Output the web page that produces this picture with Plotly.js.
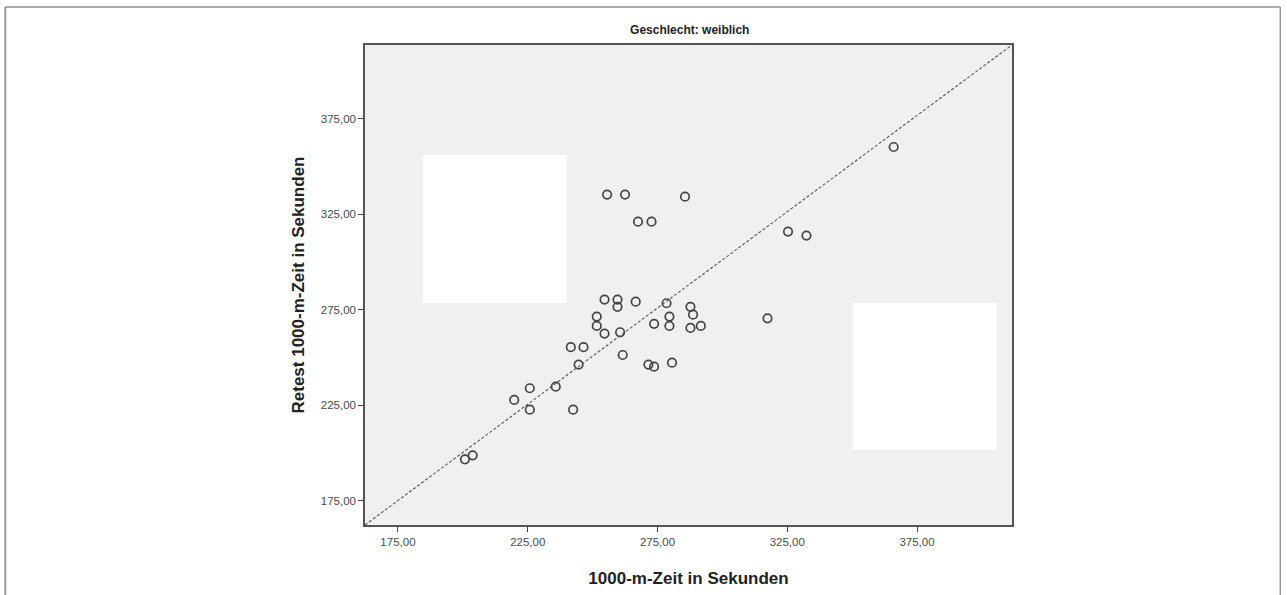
<!DOCTYPE html>
<html>
<head>
<meta charset="utf-8">
<script src="https://cdn.plot.ly/plotly-3.0.1.min.js"></script>
<style>
html,body{margin:0;padding:0;background:#fff;}
#chart{width:1287px;height:595px;}
</style>
</head>
<body>
<div id="chart"></div>
<script>
// 1000-m-Zeit (Test) in Sekunden
const testZeit = [255.6, 262.5, 285.6, 267.5, 272.7, 254.6, 259.6, 259.6, 266.6, 278.5,
                  251.6, 251.6, 254.6, 260.6, 273.7, 279.6, 279.6, 287.7, 288.7, 287.7,
                  291.7, 241.6, 246.5, 244.6, 261.6, 271.5, 273.7, 280.6, 225.8, 219.8,
                  235.8, 225.8, 242.5, 200.8, 203.8, 317.4, 325.3, 332.4, 366.0];
// Retest 1000-m-Zeit in Sekunden
const retestZeit = [335.3, 335.3, 334.2, 321.1, 321.1, 280.3, 280.3, 276.5, 279.2, 278.4,
                    271.4, 266.5, 262.5, 263.2, 267.6, 271.4, 266.5, 276.5, 272.4, 265.5,
                    266.5, 255.4, 255.4, 246.3, 251.3, 246.3, 245.2, 247.3, 233.9, 227.8,
                    234.7, 222.7, 222.7, 196.7, 198.8, 270.5, 315.9, 313.8, 360.2];
const tickValues = [175, 225, 275, 325, 375];
const tickLabels = ["175,00", "225,00", "275,00", "325,00", "375,00"];

const L = 365, R = 1012.5, T = 45, B = 525;
const W = 1287, H = 595;
function px(x){ return (x - L) / (R - L); }
function py(y){ return (B - y) / (B - T); }

const FONT = 'Liberation Sans, Arial, sans-serif';

const trace = {
  type: 'scatter', mode: 'markers',
  x: testZeit, y: retestZeit,
  marker: {symbol: 'circle-open', size: 8.5, color: '#444', line: {width: 1.7, color: '#444'}},
  hoverinfo: 'x+y', showlegend: false
};

const axisCommon = {
  tickmode: 'array', tickvals: tickValues, ticktext: tickLabels,
  ticks: 'outside', ticklen: 5, tickwidth: 1.3, tickcolor: '#444',
  showgrid: false, zeroline: false,
  showline: true, linecolor: '#555', linewidth: 1.5, mirror: true,
  tickfont: {family: FONT, size: 11.5, color: '#4a4a4a'},
  automargin: false, fixedrange: true
};

const layout = {
  width: W, height: H,
  paper_bgcolor: '#ffffff', plot_bgcolor: '#f0f0f0',
  margin: {l: L, r: W - R, t: T, b: H - B, pad: 0},
  title: {text: '<b>Geschlecht: weiblich</b>', x: px(690), xref: 'paper', xanchor: 'center',
          y: 1 - 30 / H, yanchor: 'middle',
          font: {family: FONT, size: 12, color: '#222'}},
  xaxis: Object.assign({}, axisCommon, {
    range: [162.3, 411.6],
    title: {text: '<b>1000-m-Zeit in Sekunden</b>', standoff: 26,
            font: {family: FONT, size: 17, color: '#222'}}
  }),
  yaxis: Object.assign({}, axisCommon, {
    range: [162.3, 413.6],
    title: {text: '<b>Retest 1000-m-Zeit in Sekunden</b>', standoff: 12,
            font: {family: FONT, size: 17, color: '#222'}}
  }),
  shapes: [
    // diagonal reference line
    {type: 'line', xref: 'paper', yref: 'paper', x0: 0, y0: 0, x1: 1, y1: 1,
     line: {color: '#555', width: 1.1, dash: '3px,2px'}, layer: 'above'},
    // white redaction boxes
    {type: 'rect', xref: 'paper', yref: 'paper', x0: px(423), x1: px(567), y0: py(303), y1: py(155),
     fillcolor: '#ffffff', line: {width: 0}, layer: 'above'},
    {type: 'rect', xref: 'paper', yref: 'paper', x0: px(853), x1: px(997), y0: py(450), y1: py(303),
     fillcolor: '#ffffff', line: {width: 0}, layer: 'above'},
    // outer frame lines
    {type: 'line', xref: 'paper', yref: 'paper', x0: px(5), x1: px(1281), y0: py(7), y1: py(7),
     line: {color: '#555', width: 1}},
    {type: 'line', xref: 'paper', yref: 'paper', x0: px(5), x1: px(5), y0: py(7), y1: py(595),
     line: {color: '#999', width: 2}},
    {type: 'line', xref: 'paper', yref: 'paper', x0: px(1281), x1: px(1281), y0: py(7), y1: py(595),
     line: {color: '#999', width: 1.5}}
  ]
};

Plotly.newPlot('chart', [trace], layout, {displayModeBar: false});
</script>
</body>
</html>
